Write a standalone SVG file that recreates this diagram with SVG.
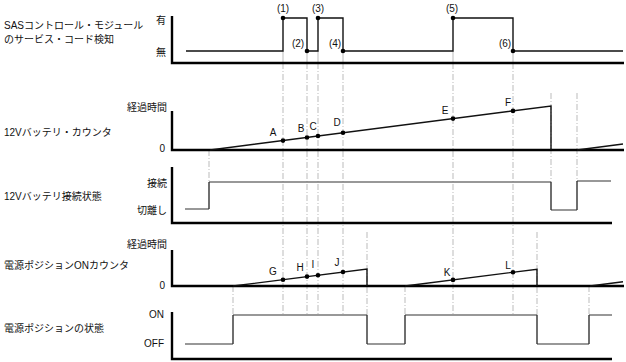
<svg xmlns="http://www.w3.org/2000/svg" width="626" height="362" viewBox="0 0 626 362">
<style>
text{font-family:"Liberation Sans","Noto Sans CJK JP",sans-serif;font-size:10px;fill:#111}
.r{text-anchor:end}
.m{text-anchor:middle}
.axis{stroke:#000;stroke-width:2.4;fill:none}
.sig{stroke:#111;stroke-width:1.4;fill:none}
.hg{stroke:#777;stroke-width:1.6;fill:none}
.vg{stroke:#333;stroke-width:1.4;fill:none}
.guide{stroke:#aaa;stroke-width:0.8;stroke-dasharray:6 2 1 2;fill:none}
.gs{stroke:#aaa;stroke-width:0.8;fill:none}
.dot{fill:#000}
</style>
<g id="connectors">
<g id="guides">
<path class="gs" d="M283 51V63M307 51V63M318 51V63M343 51V63M453 51V63M513 51V63"/>
<path class="guide" d="M283 63V315M307 63V315M318 63V315M343 63V315M453 63V315M513 63V315"/>
<path class="guide" d="M209 150V182M551 93V182M577 93V182"/>
<path class="guide" d="M233 286V315M367 232V315M405 286V315M537 232V315M589 286V315"/>
</g>
</g>
<g id="panel1">
<text x="4" y="29">SASコントロール・モジュール</text>
<text x="4" y="43">のサービス・コード検知</text>
<text class="r" x="166" y="24">有</text>
<text class="r" x="166" y="56">無</text>
<path class="axis" d="M172 16V63H624"/>
<path class="sig" d="M186 51H283V18H307V51H318V18H343V51H453V18H513V51H623"/>
<circle class="dot" cx="283" cy="18" r="2.3"/>
<circle class="dot" cx="307" cy="51" r="2.3"/>
<circle class="dot" cx="318" cy="18" r="2.3"/>
<circle class="dot" cx="343" cy="51" r="2.3"/>
<circle class="dot" cx="453" cy="18" r="2.3"/>
<circle class="dot" cx="513" cy="51" r="2.3"/>
<text class="m" x="283" y="12">(1)</text>
<text class="m" x="298" y="47">(2)</text>
<text class="m" x="318" y="12">(3)</text>
<text class="m" x="335" y="47">(4)</text>
<text class="m" x="452" y="12">(5)</text>
<text class="m" x="505" y="47">(6)</text>
</g>
<g id="panel2">
<text x="4" y="136">12Vバッテリ・カウンタ</text>
<text class="r" x="167" y="111">経過時間</text>
<text class="r" x="165" y="152">0</text>
<path class="axis" d="M172 111V150H624"/>
<path class="sig" d="M210 150L551 106V150M577 150L623 144"/>
<circle class="dot" cx="283" cy="140.6" r="2.3"/>
<circle class="dot" cx="307" cy="137.5" r="2.3"/>
<circle class="dot" cx="318" cy="136" r="2.3"/>
<circle class="dot" cx="343" cy="132.8" r="2.3"/>
<circle class="dot" cx="453" cy="118.6" r="2.3"/>
<circle class="dot" cx="513" cy="110.9" r="2.3"/>
<text class="m" x="273" y="136">A</text>
<text class="m" x="301" y="132">B</text>
<text class="m" x="313" y="130">C</text>
<text class="m" x="337" y="126">D</text>
<text class="m" x="445" y="114">E</text>
<text class="m" x="508" y="106">F</text>
</g>
<g id="panel3">
<text x="4" y="200">12Vバッテリ接続状態</text>
<text class="r" x="167" y="187">接続</text>
<text class="r" x="167" y="214">切離し</text>
<path class="axis" d="M172 167V223H612"/>
<path class="hg" d="M185 209H209M209 182H551M551 210H577M577 181H611"/>
<path class="vg" d="M209 209V182M551 182V210M577 210V181"/>
</g>
<g id="panel4">
<text x="4" y="269">電源ポジションONカウンタ</text>
<text class="r" x="167" y="248">経過時間</text>
<text class="r" x="165" y="289">0</text>
<path class="axis" d="M172 250V286H624"/>
<path class="sig" d="M233 286L367 269V286M405 286L537 269.2V286M590 286L623 281.8"/>
<circle class="dot" cx="283" cy="279.7" r="2.3"/>
<circle class="dot" cx="307" cy="276.6" r="2.3"/>
<circle class="dot" cx="318" cy="275.2" r="2.3"/>
<circle class="dot" cx="343" cy="272" r="2.3"/>
<circle class="dot" cx="453" cy="279.9" r="2.3"/>
<circle class="dot" cx="513" cy="272.3" r="2.3"/>
<text class="m" x="273" y="275">G</text>
<text class="m" x="300" y="271">H</text>
<text class="m" x="313" y="268">I</text>
<text class="m" x="337" y="266">J</text>
<text class="m" x="447" y="276">K</text>
<text class="m" x="508" y="269">L</text>
</g>
<g id="panel5">
<text x="4" y="332">電源ポジションの状態</text>
<text class="r" x="164" y="318">ON</text>
<text class="r" x="164" y="347">OFF</text>
<path class="axis" d="M172 312V359H612"/>
<path class="hg" d="M185 344H233M233 315H367M367 344H405M405 315H537M537 344H589M589 315H612"/>
<path class="vg" d="M233 344V315M367 315V344M405 344V315M537 315V344M589 344V315"/>
</g>
</svg>
